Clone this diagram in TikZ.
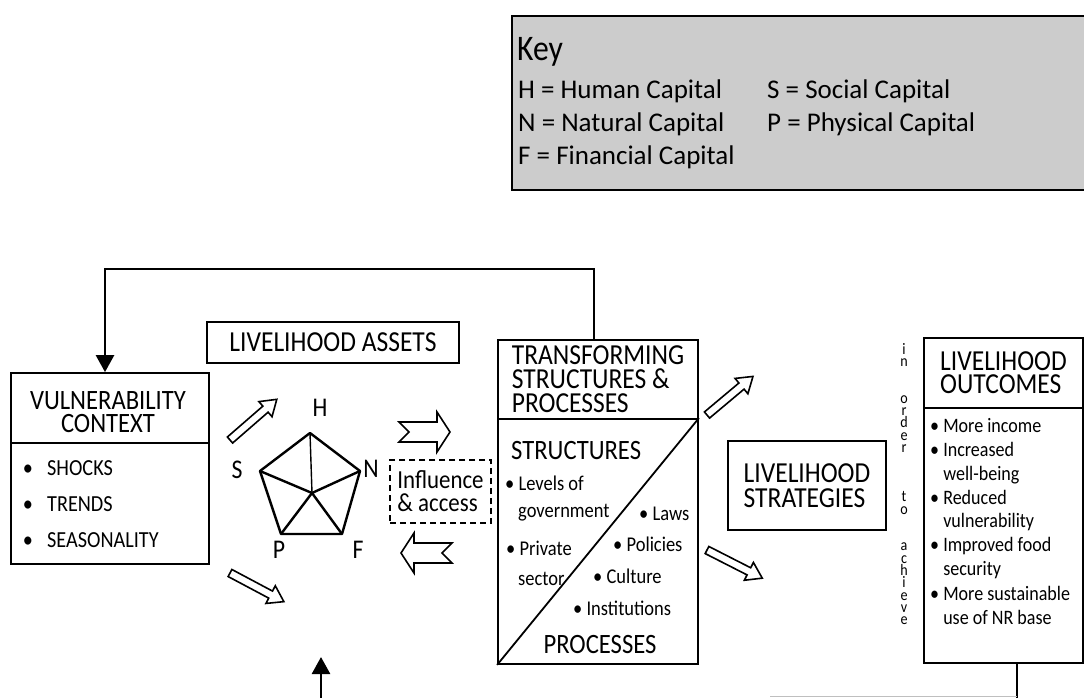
\documentclass[tikz,border=0pt]{standalone}
\usepackage{fontspec}
\setmainfont{Carlito}
\newfontfamily\narrowfont{Carlito}[FakeStretch=0.88]
\usetikzlibrary{arrows.meta}

\newcommand{\headfont}{\narrowfont\fontsize{29}{24}\selectfont}
\newcommand{\itemfont}{\narrowfont\fontsize{21}{24}\selectfont}
\newcommand{\keyfont}{\fontsize{27}{31}\selectfont}
% hollow arrow: x, y, angle, length
\newcommand{\flechecreuse}[4]{%
  \draw[creuse, shift={(#1,#2)}, rotate=#3] (0,-4) -- (#4-15,-4) -- (#4-15,-10)
    -- (#4,0) -- (#4-15,10) -- (#4-15,4) -- (0,4) -- cycle;}
% notched arrow: x, y, direction
\newcommand{\chevron}[3]{%
  \draw[creuse, shift={(#1,#2)}, xscale=#3] (0,-10) -- (38,-10) -- (38,-20)
    -- (51,0) -- (38,20) -- (38,10) -- (0,10) -- (10,0) -- cycle;}

\begin{document}
\begin{tikzpicture}[x=1pt,y=-1pt,
    boite/.style={draw, line width=1.8pt, inner sep=0pt},
    titre/.style={boite, font=\headfont, align=left},
    puce/.style={font=\itemfont, inner sep=0pt, anchor=base west},
    fleche/.style={-{Triangle[width=18pt,length=17pt]}, line width=2.6pt},
    creuse/.style={line width=1.6pt, fill=white, line join=miter}]
  \useasboundingbox (0,0) rectangle (1084,697);

  % key
  \node[draw, fill=black!20, line width=2.2pt, minimum width=580, minimum height=174, inner sep=0pt] (keybox) at (802,103) {};
  \node[inner sep=0pt, anchor=base west, font=\narrowfont\fontsize{36}{36}\selectfont] (key) at (517,60) {Key};
  \node[inner sep=0pt, anchor=base west, font=\keyfont] (kH) at (518,98) {H = Human Capital};
  \node[inner sep=0pt, anchor=base west, font=\keyfont] (kN) at (518,131) {N = Natural Capital};
  \node[inner sep=0pt, anchor=base west, font=\keyfont] (kF) at (518,164) {F = Financial Capital};
  \node[inner sep=0pt, anchor=base west, font=\keyfont] (kS) at (767,98) {S = Social Capital};
  \node[inner sep=0pt, anchor=base west, font=\keyfont] (kP) at (767,131) {P = Physical Capital};

  % vulnerability context
  \node[boite, minimum width=198, minimum height=70] (vctitle) at (110,408) {};
  \node[inner sep=0pt, align=center, font=\narrowfont\fontsize{28}{23}\selectfont] (vctext) at (108,412) {VULNERABILITY\\CONTEXT};
  \node[boite, minimum width=198, minimum height=121] (vcbody) at (110,503.5) {};
  \foreach \t/\y [count=\i] in {SHOCKS/475, TRENDS/511, SEASONALITY/547} {
    \node[inner sep=0pt, anchor=base, font=\narrowfont\fontsize{23}{23}\selectfont] (vcb-\i) at (28,\y) {\textbullet};
    \node[inner sep=0pt, anchor=base west, font=\narrowfont\fontsize{23}{23}\selectfont] (vct-\i) at (47,\y) {\t};
  }

  % livelihood assets
  \node[titre, minimum width=252, minimum height=41] (assets) at (333,342.5) {LIVELIHOOD ASSETS};
  \coordinate (pH) at (310,433);
  \coordinate (pN) at (360,471);
  \coordinate (pF) at (342,534);
  \coordinate (pP) at (281,534);
  \coordinate (pS) at (260,471);
  \coordinate (pC) at (312,493);
  \draw[line width=2.4pt, line join=round] (pH) -- (pN) -- (pF) -- (pP) -- (pS) -- cycle;
  \foreach \v in {pN,pF,pP,pS}
    \draw[line width=2.4pt] (pC) -- (\v);
  \draw[line width=1.4pt] (pC) -- (pH);
  \node[font=\narrowfont\fontsize{27}{27}\selectfont, inner sep=0pt] (lH) at (320,408) {H};
  \node[font=\narrowfont\fontsize{27}{27}\selectfont, inner sep=0pt] (lS) at (237,470) {S};
  \node[font=\narrowfont\fontsize{27}{27}\selectfont, inner sep=0pt] (lN) at (371,469) {N};
  \node[font=\narrowfont\fontsize{27}{27}\selectfont, inner sep=0pt] (lP) at (279,550) {P};
  \node[font=\narrowfont\fontsize{27}{27}\selectfont, inner sep=0pt] (lF) at (358,550) {F};
  \flechecreuse{230}{440}{41}{62}
  \flechecreuse{230}{573}{-28}{61}
  \chevron{399}{432}{1}
  \chevron{452}{553}{-1}
  \node[draw, dashed, dash pattern=on 6pt off 4pt, line width=2pt, inner sep=0pt, align=left,
        font=\narrowfont\fontsize{26}{23}\selectfont, minimum width=101, minimum height=63] (infl) at (440.5,491.5) {Influence\\\& access};

  % transforming structures and processes
  \node[titre, minimum width=200, minimum height=79] (tsptitle) at (598,379.5) {TRANSFORMING\\STRUCTURES \&\\PROCESSES};
  \node[boite, minimum width=200, minimum height=245] (tspbody) at (598,541.5) {};
  \draw[line width=1.8pt] (tspbody.south west) -- (tspbody.north east);
  \node[inner sep=0pt, anchor=base west, font=\narrowfont\fontsize{28}{28}\selectfont] (struc) at (511,459) {STRUCTURES};
  \node[inner sep=0pt, anchor=base, font=\narrowfont\fontsize{28}{28}\selectfont] (proc) at (600,653) {PROCESSES};
  \node[puce] (s1) at (505,490) {\textbullet\ Levels of};
  \node[puce] (s1b) at (518,517) {government};
  \node[puce] (s2) at (506,555) {\textbullet\ Private};
  \node[puce] (s2b) at (518,585) {sector};
  \node[puce] (p1) at (639,520) {\textbullet\ Laws};
  \node[puce] (p2) at (613,551) {\textbullet\ Policies};
  \node[puce] (p3) at (593,583) {\textbullet\ Culture};
  \node[puce] (p4) at (573,615) {\textbullet\ Institutions};
  \flechecreuse{707}{415}{40}{60}
  \flechecreuse{707}{550}{-27}{62}

  % strategies
  \node[titre, font=\narrowfont\fontsize{29}{25}\selectfont, minimum width=158, minimum height=89] (strat) at (807,485.5) {LIVELIHOOD\\STRATEGIES};
  \node[inner sep=0pt, anchor=south, align=center, font=\narrowfont\fontsize{16}{12.3}\selectfont] (ordre) at (904,625)
    {i\\n\\[24.6pt]o\\r\\d\\e\\r\\[36.9pt]t\\o\\[24.6pt]a\\c\\h\\i\\e\\v\\e};

  % outcomes
  \node[titre, font=\narrowfont\fontsize{29}{23}\selectfont, minimum width=159, minimum height=70] (lotitle) at (1003.5,373) {LIVELIHOOD\\OUTCOMES};
  \node[boite, minimum width=159, minimum height=255] (lobody) at (1003.5,535.5) {};
  \foreach \y/\t [count=\i] in {432/{\textbullet\ More income}, 456/{\textbullet\ Increased},
      480/{\phantom{\textbullet\ }well-being}, 504/{\textbullet\ Reduced},
      527/{\phantom{\textbullet\ }vulnerability}, 551/{\textbullet\ Improved food},
      575/{\phantom{\textbullet\ }security}, 600/{\textbullet\ More sustainable},
      624/{\phantom{\textbullet\ }use of NR base}}
    \node[puce, font=\narrowfont\fontsize{20.5}{24}\selectfont] (lo-\i) at (930,\y) {\t};

  % feedback
  \draw[fleche] ([xshift=-4pt]tsptitle.north) -- ++(0,-70) -| ([xshift=-5pt]vctitle.north);
  \coordinate (lofoot) at (1017,700);
  \draw[line width=2.6pt] (lofoot |- lobody.south) -- (lofoot);
  \draw[black!25, line width=0.8pt] (770,696) -- (1017,696);
  \coordinate (upfoot) at (321,700);
  \coordinate (uptip) at (321,657);
  \draw[fleche] (upfoot) -- (uptip);
\end{tikzpicture}
\end{document}
